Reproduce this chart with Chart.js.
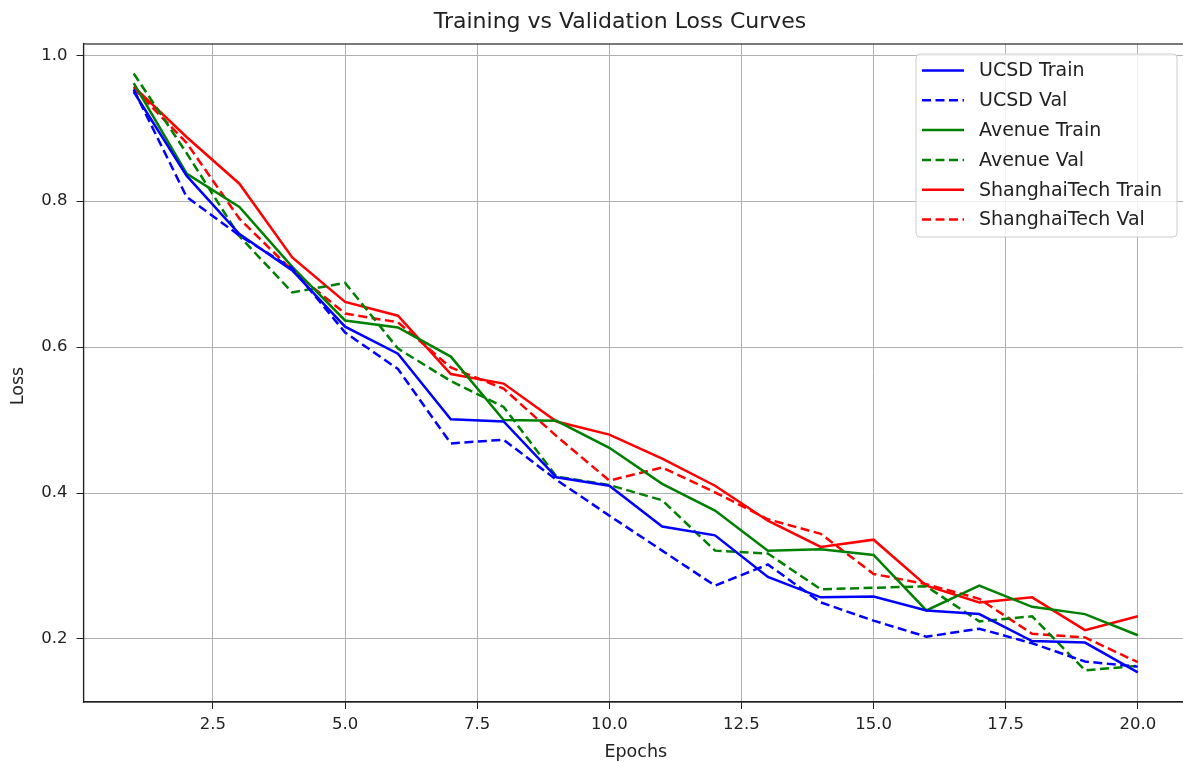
<!DOCTYPE html>
<html>
<head>
<meta charset="utf-8">
<script src="https://cdn.jsdelivr.net/npm/chart.js@4.4.1/dist/chart.umd.min.js"></script>
<style>
  html, body { margin: 0; padding: 0; background: #fff; overflow: hidden; }
  #wrap { width: 1192px; height: 763px; }
</style>
</head>
<body>
<div id="wrap"><canvas id="c" width="1192" height="763"></canvas></div>
<script>
const epochs = [1,2,3,4,5,6,7,8,9,10,11,12,13,14,15,16,17,18,19,20];
const xTickValues = [2.5, 5.0, 7.5, 10.0, 12.5, 15.0, 17.5, 20.0];
const yTickValues = [0.2, 0.4, 0.6, 0.8, 1.0];
const chartTitle = 'Training vs Validation Loss Curves';
const yAxisLabel = 'Loss';
const xAxisLabel = 'Epochs';

const ucsdTrain = [0.950, 0.835, 0.755, 0.705, 0.628, 0.591, 0.501, 0.498, 0.4215, 0.410, 0.354, 0.342, 0.285, 0.257, 0.258, 0.239, 0.234, 0.197, 0.195, 0.154];
const ucsdVal = [0.953, 0.806, 0.753, 0.708, 0.620, 0.570, 0.468, 0.473, 0.418, 0.369, 0.321, 0.273, 0.302, 0.250, 0.225, 0.203, 0.214, 0.194, 0.169, 0.162];
const avenueTrain = [0.962, 0.838, 0.792, 0.710, 0.6365, 0.627, 0.587, 0.500, 0.499, 0.462, 0.4125, 0.376, 0.321, 0.323, 0.315, 0.239, 0.273, 0.244, 0.234, 0.205];
const avenueVal = [0.975, 0.866, 0.752, 0.675, 0.688, 0.598, 0.5535, 0.518, 0.4225, 0.411, 0.390, 0.321, 0.317, 0.268, 0.270, 0.272, 0.224, 0.231, 0.157, 0.163];
const shanghaiTrain = [0.957, 0.888, 0.824, 0.723, 0.662, 0.643, 0.563, 0.550, 0.498, 0.480, 0.447, 0.410, 0.362, 0.326, 0.336, 0.273, 0.250, 0.257, 0.212, 0.231];
const shanghaiVal = [0.955, 0.880, 0.776, 0.705, 0.646, 0.634, 0.572, 0.543, 0.478, 0.417, 0.435, 0.401, 0.364, 0.344, 0.289, 0.275, 0.255, 0.207, 0.202, 0.168];

const FONT = '"DejaVu Sans", "Liberation Sans", sans-serif';
const DASH = [9, 4.5];
const LW = 2.5;

function pts(arr) { return epochs.map((e, i) => ({ x: e, y: arr[i] })); }
function ds(label, arr, color, dashed) {
  return {
    label, data: pts(arr), borderColor: color, backgroundColor: color,
    borderWidth: LW, borderDash: dashed ? DASH : [], pointRadius: 0, tension: 0, fill: false
  };
}

const datasets = [
  ds('UCSD Train', ucsdTrain, '#0000ff', false),
  ds('UCSD Val', ucsdVal, '#0000ff', true),
  ds('Avenue Train', avenueTrain, '#008000', false),
  ds('Avenue Val', avenueVal, '#008000', true),
  ds('ShanghaiTech Train', shanghaiTrain, '#ff0000', false),
  ds('ShanghaiTech Val', shanghaiVal, '#ff0000', true)
];

const framePlugin = {
  id: 'frame',
  afterDatasetsDraw(chart) {
    const { ctx, chartArea: a } = chart;
    ctx.save();
    ctx.strokeStyle = '#222';
    ctx.lineWidth = 1.2;
    ctx.strokeRect(a.left, a.top, a.right - a.left, a.bottom - a.top);
    ctx.restore();
  }
};

const textPlugin = {
  id: 'mplTexts',
  afterDraw(chart) {
    const { ctx } = chart;
    ctx.save();
    ctx.font = '22px ' + FONT;
    ctx.fillStyle = '#222';
    ctx.textAlign = 'center';
    ctx.textBaseline = 'middle';
    ctx.fillText(chartTitle, 620, 22);
    ctx.font = '17.5px ' + FONT;
    ctx.translate(18, 386);
    ctx.rotate(-Math.PI / 2);
    ctx.fillText(yAxisLabel, 0, 0);
    ctx.restore();
  }
};

const legendPlugin = {
  id: 'mplLegend',
  afterDraw(chart) {
    const { ctx, chartArea: a } = chart;
    const bx = a.right - 272, by = a.top + 10, bw = 261, bh = 183, r = 4;
    ctx.save();
    ctx.beginPath();
    ctx.moveTo(bx + r, by);
    ctx.arcTo(bx + bw, by, bx + bw, by + bh, r);
    ctx.arcTo(bx + bw, by + bh, bx, by + bh, r);
    ctx.arcTo(bx, by + bh, bx, by, r);
    ctx.arcTo(bx, by, bx + bw, by, r);
    ctx.closePath();
    ctx.fillStyle = 'rgba(255,255,255,0.8)';
    ctx.fill();
    ctx.strokeStyle = '#cccccc';
    ctx.lineWidth = 1;
    ctx.stroke();
    ctx.font = '19px ' + FONT;
    ctx.textBaseline = 'middle';
    ctx.textAlign = 'left';
    chart.data.datasets.forEach((d, i) => {
      const y = by + 16.5 + i * 29.8;
      ctx.beginPath();
      ctx.setLineDash(d.borderDash || []);
      ctx.strokeStyle = d.borderColor;
      ctx.lineWidth = LW;
      ctx.moveTo(bx + 6, y);
      ctx.lineTo(bx + 48, y);
      ctx.stroke();
      ctx.setLineDash([]);
      ctx.fillStyle = '#222';
      ctx.fillText(d.label, bx + 63, y + 1);
    });
    ctx.restore();
  }
};

new Chart(document.getElementById('c'), {
  type: 'line',
  data: { datasets },
  plugins: [framePlugin, legendPlugin, textPlugin],
  options: {
    responsive: false,
    animation: false,
    events: [],
    layout: { padding: { left: 0, right: 4, top: 44, bottom: 0 } },
    plugins: {
      legend: { display: false },
      tooltip: { enabled: false },
      title: { display: false }
    },
    scales: {
      x: {
        type: 'linear',
        min: 0.05,
        max: 20.95,
        afterBuildTicks(scale) { scale.ticks = xTickValues.map(v => ({ value: v })); },
        afterFit(scale) { scale.height = 61; },
        ticks: {
          color: '#222', padding: 6,
          font: { family: FONT, size: 16.5 },
          maxRotation: 0, autoSkip: false,
          callback: v => Number(v).toFixed(1)
        },
        grid: { color: '#b0b0b0', lineWidth: 1, tickLength: 7, tickColor: '#222', drawTicks: true },
        border: { display: true, color: '#222', width: 1.2 },
        title: {
          display: true, text: xAxisLabel, color: '#222',
          font: { family: FONT, size: 17.5 },
          padding: { top: 0, bottom: 0 }
        }
      },
      y: {
        type: 'linear',
        min: 0.1135,
        max: 1.0155,
        afterBuildTicks(scale) { scale.ticks = yTickValues.map(v => ({ value: v })); },
        afterFit(scale) { scale.width = 83.5; },
        ticks: {
          color: '#222', padding: 9,
          font: { family: FONT, size: 16.5 },
          autoSkip: false,
          callback: v => Number(v).toFixed(1)
        },
        grid: { color: '#b0b0b0', lineWidth: 1, tickLength: 7, tickColor: '#222', drawTicks: true },
        border: { display: true, color: '#222', width: 1.2 },
        title: { display: false }
      }
    }
  }
});
</script>
</body>
</html>
